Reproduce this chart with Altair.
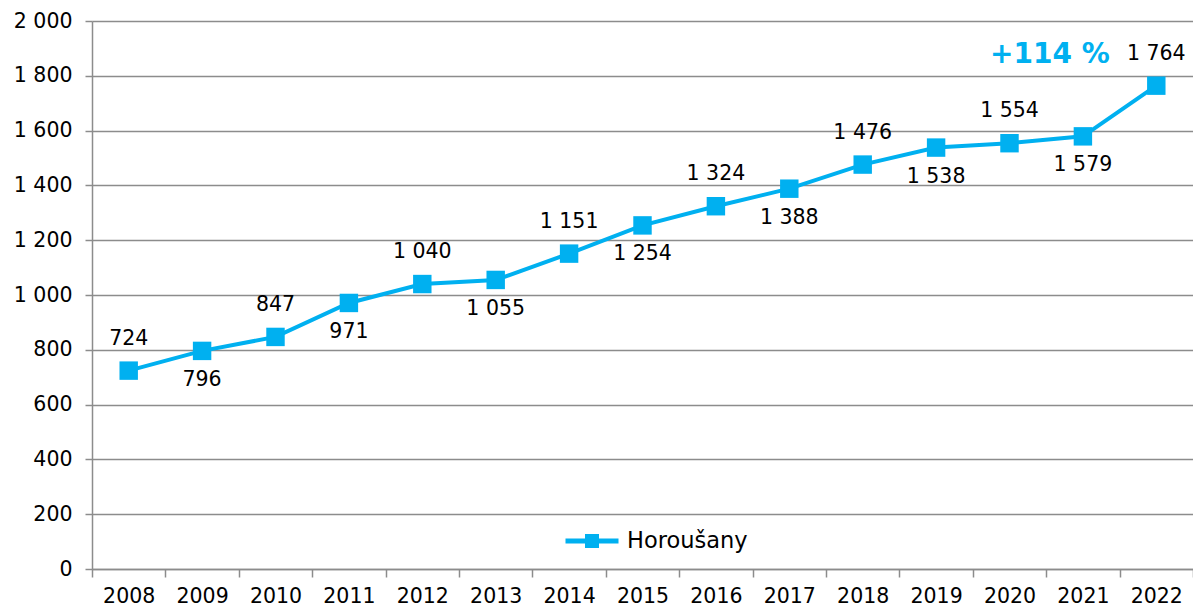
import altair as alt
import pandas as pd

years = [str(y) for y in range(2008, 2023)]
values = [724, 796, 847, 971, 1040, 1055, 1151, 1254, 1324, 1388, 1476, 1538, 1554, 1579, 1764]
series_name = "Horoušany"
annotation_text = ["+114 %"]
annotation_year = ["2021"]
annotation_value = [1877]

BLUE = "#00B0F0"
FONT = "DejaVu Sans"
FS = 20.5

labels = [f"{v:,}".replace(",", " ") for v in values]
pos = ["above" if i % 2 == 0 else "below" for i in range(len(values))]
df = pd.DataFrame({"year": years, "value": values, "label": labels, "pos": pos,
                   "series": [series_name] * len(values)})
ann = pd.DataFrame({"year": annotation_year, "value": annotation_value, "text": annotation_text})

xscale = alt.Scale(type="band", domain=years, paddingInner=0, paddingOuter=0)
yscale = alt.Scale(domain=[0, 2000], nice=False)

x = alt.X("year:O", scale=xscale, title=None,
          axis=alt.Axis(tickBand="extent", labelAngle=0, labelFontSize=FS, labelFont=FONT,
                        labelColor="black", domainColor="#8c8c8c", tickColor="#8c8c8c",
                        domainWidth=1.5, tickWidth=1.5, tickSize=8, labelPadding=9, grid=False))
y = alt.Y("value:Q", scale=yscale, title=None,
          axis=alt.Axis(values=list(range(0, 2001, 200)), labelFontSize=FS, labelFont=FONT,
                        labelColor="black", labelExpr="replace(format(datum.value, ','), ',', ' ')",
                        grid=True, gridColor="#8c8c8c", gridWidth=1.5, domainColor="#8c8c8c",
                        domainWidth=1.5, tickColor="#8c8c8c", tickWidth=1.5, tickSize=7,
                        labelPadding=13))

base = alt.Chart(df).encode(x=x, y=y)

line = base.mark_line(strokeWidth=4).encode(
    color=alt.Color("series:N", scale=alt.Scale(range=[BLUE]),
                    legend=alt.Legend(title=None, orient="none", legendX=471, legendY=491,
                                      symbolType="M-1,0L1,0M-0.17,-0.17L0.17,-0.17L0.17,0.17L-0.17,0.17Z",
                                      symbolSize=2809, symbolStrokeWidth=5, symbolFillColor=BLUE,
                                      labelFontSize=22.5, labelFont=FONT, labelColor="black",
                                      labelOffset=6))
)
points = base.mark_point(shape="square", filled=True, size=340, opacity=1, color=BLUE)

above = base.transform_filter("datum.pos == 'above'").mark_text(
    fontSize=FS, font=FONT, color="black", dy=-32).encode(text="label:N")
below = base.transform_filter("datum.pos == 'below'").mark_text(
    fontSize=FS, font=FONT, color="black", dy=29).encode(text="label:N")

annot = alt.Chart(ann).mark_text(fontSize=28, font=FONT, fontWeight="bold", color=BLUE,
                                 dx=-33).encode(
    x=alt.X("year:O", scale=xscale), y=alt.Y("value:Q", scale=yscale), text="text:N")

chart = alt.layer(line, points, above, below, annot).properties(
    width=1101, height=548,
    autosize=alt.AutoSizeParams(type="none"),
    padding={"left": 84, "top": 13, "right": 0, "bottom": 39},
).configure_view(stroke=None)

chart.save("out.html", embed_options={"renderer": "svg", "actions": False})
